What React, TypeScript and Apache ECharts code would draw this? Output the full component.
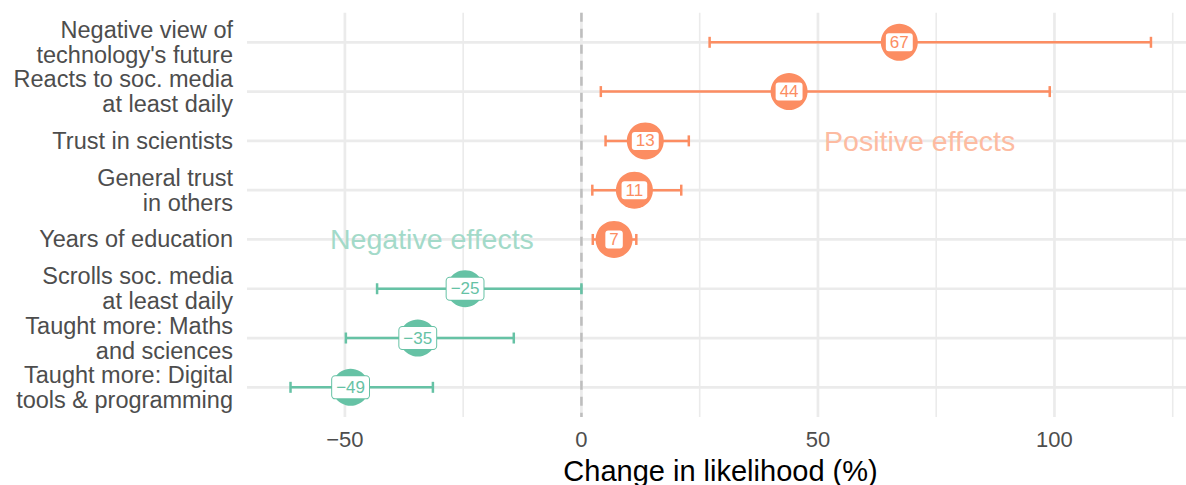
import React, { useEffect, useRef } from "react";
import * as echarts from "echarts";

// ---- data (top row first) ----
const categories = [
  "Negative view of\ntechnology's future",
  "Reacts to soc. media\nat least daily",
  "Trust in scientists",
  "General trust\nin others",
  "Years of education",
  "Scrolls soc. media\nat least daily",
  "Taught more: Maths\nand sciences",
  "Taught more: Digital\ntools & programming",
];
const estimates = [67.2, 43.9, 13.5, 11.2, 6.9, -24.6, -34.6, -48.8];
const lowerCI = [27.1, 4.1, 5.1, 2.3, 2.4, -43.2, -49.8, -61.5];
const upperCI = [120.4, 99.0, 22.7, 21.1, 11.6, 0.0, -14.3, -31.4];
const labelValues = [67, 44, 13, 11, 7, -25, -35, -49];

const xTickValues = [-50, 0, 50, 100];
const majorGrid = [-50, 0, 50, 100];
const minorGrid = [-25, 25, 75, 125];
const zeroLine = [0];

const annotationTexts = ["Positive effects", "Negative effects"];
const annotationX = [71.5, -31.6];
const annotationRow = [2, 4];
const annotationColors = ["#fdbba1", "#a3dac9"];

const ORANGE = "#fc8d62";
const GREEN = "#66c2a5";
const FONT = "'Liberation Sans', Arial, Helvetica, sans-serif";

const fmtNum = (v: number) => (v < 0 ? "\u2212" + Math.abs(v) : String(v));

function vLineRenderer(width: number, color: string, dash?: number[]) {
  return (params: any, api: any) => {
    const v = api.value(0);
    const band = api.size([0, 1])[1];
    const a = api.coord([v, 0]);
    const b = api.coord([v, categories.length - 1]);
    const y1 = Math.min(a[1], b[1]) - 0.6 * band;
    const y2 = Math.max(a[1], b[1]) + 0.6 * band;
    return {
      type: "line",
      shape: { x1: a[0], y1, x2: a[0], y2 },
      style: { stroke: color, lineWidth: width, lineDash: dash || null },
    };
  };
}

export default function App() {
  const ref = useRef<HTMLDivElement>(null);

  useEffect(() => {
    if (!ref.current) return;
    const chart = echarts.init(ref.current, undefined, { renderer: "svg" });

    const rowIdx = categories.map((_, i) => i);
    const posData: any[] = [];
    const negData: any[] = [];
    estimates.forEach((e, i) => {
      const item = [e, i, labelValues[i]];
      if (e >= 0) posData.push(item);
      else negData.push(item);
    });

    const option: any = {
      animation: false,
      grid: {
        left: 247,
        top: 17.66,
        width: 947,
        height: 394.3,
        containLabel: false,
        outerBoundsMode: "none",
      },
      xAxis: {
        type: "value",
        min: -70.7,
        max: 129.5,
        axisLine: { show: false },
        axisTick: { show: false },
        splitLine: { show: false },
        axisLabel: {
          customValues: xTickValues,
          formatter: (v: number) => fmtNum(v),
          fontSize: 22,
          color: "#4d4d4d",
          fontFamily: FONT,
          margin: 17,
        },
        name: "Change in likelihood (%)",
        nameLocation: "middle",
        nameGap: 45,
        nameTextStyle: { fontSize: 29, color: "#000", fontFamily: FONT },
      },
      yAxis: {
        type: "category",
        data: categories,
        inverse: true,
        axisLine: { show: false },
        axisTick: { show: false },
        splitLine: { show: false },
        axisLabel: {
          interval: 0,
          hideOverlap: false,
          fontSize: 23.5,
          lineHeight: 25,
          color: "#4d4d4d",
          fontFamily: FONT,
          margin: 14,
          align: "right",
        },
      },
      series: [
        {
          type: "custom",
          z: 1,
          data: minorGrid.map((v) => [v, 0]),
          encode: { x: 0, y: 1 },
          renderItem: vLineRenderer(1.6, "#ebebeb"),
          silent: true,
        },
        {
          type: "custom",
          z: 1,
          data: majorGrid.map((v) => [v, 0]),
          encode: { x: 0, y: 1 },
          renderItem: vLineRenderer(2.7, "#ebebeb"),
          silent: true,
        },
        {
          type: "custom",
          z: 1,
          data: rowIdx.map((i) => [0, i]),
          encode: { x: 0, y: 1 },
          renderItem: (params: any, api: any) => {
            const y = api.coord([0, api.value(1)])[1];
            const cs = params.coordSys;
            return {
              type: "line",
              shape: { x1: cs.x, y1: y, x2: cs.x + cs.width, y2: y },
              style: { stroke: "#ebebeb", lineWidth: 2.7 },
            };
          },
          silent: true,
        },
        {
          type: "custom",
          z: 2,
          data: annotationTexts.map((t, i) => [annotationX[i], annotationRow[i], i]),
          encode: { x: 0, y: 1 },
          renderItem: (params: any, api: any) => {
            const k = api.value(2);
            const p = api.coord([api.value(0), api.value(1)]);
            return {
              type: "text",
              x: p[0],
              y: p[1],
              style: {
                text: annotationTexts[k],
                fill: annotationColors[k],
                fontSize: 28.5,
                fontFamily: FONT,
                align: "center",
                verticalAlign: "middle",
              },
            };
          },
          silent: true,
        },
        {
          type: "custom",
          z: 3,
          data: zeroLine.map((v) => [v, 0]),
          encode: { x: 0, y: 1 },
          renderItem: vLineRenderer(2.5, "#bebebe", [9, 7]),
          silent: true,
        },
        {
          type: "custom",
          z: 4,
          data: rowIdx.map((i) => [lowerCI[i], upperCI[i], i, estimates[i]]),
          encode: { x: [0, 1], y: 2 },
          renderItem: (params: any, api: any) => {
            const lo = api.coord([api.value(0), api.value(2)]);
            const hi = api.coord([api.value(1), api.value(2)]);
            const color = api.value(3) >= 0 ? ORANGE : GREEN;
            const h = 5.5;
            const style = { stroke: color, lineWidth: 2.5 };
            return {
              type: "group",
              children: [
                { type: "line", shape: { x1: lo[0], y1: lo[1], x2: hi[0], y2: hi[1] }, style },
                { type: "line", shape: { x1: lo[0], y1: lo[1] - h, x2: lo[0], y2: lo[1] + h }, style },
                { type: "line", shape: { x1: hi[0], y1: hi[1] - h, x2: hi[0], y2: hi[1] + h }, style },
              ],
            };
          },
          silent: true,
        },
        {
          type: "scatter",
          z: 5,
          data: posData,
          symbol: "circle",
          symbolSize: 37,
          itemStyle: { color: ORANGE, opacity: 1 },
          label: {
            show: true,
            position: "inside",
            formatter: (p: any) => fmtNum(p.data[2]),
            color: ORANGE,
            fontSize: 17,
            lineHeight: 16,
            fontFamily: FONT,
            backgroundColor: "#ffffff",
            padding: [1, 4],
            borderRadius: 3,
          },
          silent: true,
        },
        {
          type: "scatter",
          z: 5,
          data: negData,
          symbol: "circle",
          symbolSize: 37,
          itemStyle: { color: GREEN, opacity: 1 },
          label: {
            show: true,
            position: "inside",
            formatter: (p: any) => fmtNum(p.data[2]),
            color: GREEN,
            fontSize: 17,
            lineHeight: 16,
            fontFamily: FONT,
            backgroundColor: "#ffffff",
            borderColor: GREEN,
            borderWidth: 1,
            padding: [3, 4],
            borderRadius: 3,
          },
          silent: true,
        },
      ],
    };

    chart.setOption(option);
    return () => chart.dispose();
  }, []);

  return (
    <div
      ref={ref}
      style={{ position: "fixed", left: 0, top: 0, width: 1186, height: 485, background: "#fff" }}
    />
  );
}
